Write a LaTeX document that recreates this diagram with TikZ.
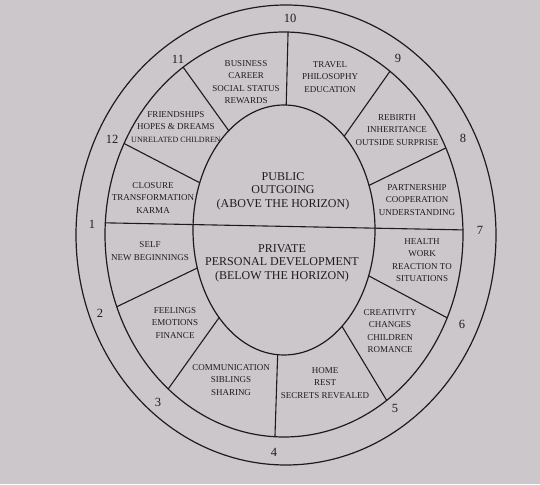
\documentclass[tikz,border=0pt]{standalone}
\usepackage{fontspec}
\setmainfont{Liberation Serif}
\usetikzlibrary{positioning}
\definecolor{paper}{RGB}{204,199,202}
\definecolor{ink}{RGB}{30,27,30}

\begin{document}
\begin{tikzpicture}[
  x=1pt, y=1pt,
  wheel/.style={draw=ink, line width=1.2pt},
  cusp/.style={draw=ink, line width=1.1pt},
  housenum/.style={text=ink, inner sep=0pt, font=\fontsize{12.5}{12.5}\selectfont},
  housetext/.style={text=ink, inner sep=0pt, align=center, font=\fontsize{9}{12.4}\selectfont},
  midtext/.style={text=ink, inner sep=0pt, align=center, font=\fontsize{12}{13.5}\selectfont}
]
  \fill[paper] (0,0) rectangle (540,484);
  \useasboundingbox (0,0) rectangle (540,484);

  % the three rings
  \coordinate (outerc) at (286,249);
  \coordinate (ringc) at (284,249.5);
  \coordinate (midc) at (284,254);
  \draw[wheel] (outerc) ellipse [x radius=210pt, y radius=230pt];
  \draw[wheel] (ringc) ellipse [x radius=179pt, y radius=202.5pt];
  \draw[wheel] (midc) ellipse [x radius=91pt, y radius=125pt];

  % horizon
  \path (ringc) ++(176.7:179pt and 202.5pt) coordinate (out1);
  \path (ringc) ++(1.3:179pt and 202.5pt) coordinate (out7);
  \draw[cusp] (out1) -- (out7);

  % house cusps
  \foreach \n/\a/\b in {2/197.7/200.9, 3/224.5/229.7, 4/266/267.1, 5/309.6/305,
                        6/338.5/335.7, 8/20.9/25.3, 9/48.6/53.7, 10/88.6/88.7,
                        11/127.4/124.3, 12/157.8/153.3}{
    \path (midc) ++(\a:91pt and 125pt) coordinate (in\n);
    \path (ringc) ++(\b:179pt and 202.5pt) coordinate (out\n);
    \draw[cusp] (in\n) -- (out\n);
  }

  % house numbers
  \node[housenum] (num1) at (92,260) {1};
  \node[housenum] (num2) at (100,171) {2};
  \node[housenum] (num3) at (158,82) {3};
  \node[housenum] (num4) at (274,32) {4};
  \node[housenum] (num5) at (395,76) {5};
  \node[housenum] (num6) at (462,160) {6};
  \node[housenum] (num7) at (480,254) {7};
  \node[housenum] (num8) at (463,346) {8};
  \node[housenum] (num9) at (398,426) {9};
  \node[housenum] (num10) at (290,466) {10};
  \node[housenum] (num11) at (178,425) {11};
  \node[housenum] (num12) at (112,345) {12};

  % house meanings
  \node[housetext] (house1) at (150,233) {SELF\\NEW BEGINNINGS};
  \node[housetext] (house2) at (175,161) {FEELINGS\\EMOTIONS\\FINANCE};
  \node[housetext] (house3) at (231,104) {COMMUNICATION\\SIBLINGS\\SHARING};
  \node[housetext] (house4) at (325,101) {HOME\\REST\\SECRETS REVEALED};
  \node[housetext] (house5) at (390,153) {CREATIVITY\\CHANGES\\CHILDREN\\ROMANCE};
  \node[housetext] (house6) at (422,224) {HEALTH\\WORK\\REACTION TO\\SITUATIONS};
  \node[housetext] (house7) at (417,284) {PARTNERSHIP\\COOPERATION\\UNDERSTANDING};
  \node[housetext] (house8) at (397,354) {REBIRTH\\INHERITANCE\\OUTSIDE SURPRISE};
  \node[housetext] (house9) at (330,407) {TRAVEL\\PHILOSOPHY\\EDUCATION};
  \node[housetext] (house10) at (246,402) {BUSINESS\\CAREER\\SOCIAL STATUS\\REWARDS};
  \node[housetext] (house11) at (176,357) {FRIENDSHIPS\\HOPES \& DREAMS\\{\fontsize{8}{9}\selectfont UNRELATED CHILDREN}};
  \node[housetext] (house12) at (153,286) {CLOSURE\\TRANSFORMATION\\KARMA};

  % hemispheres
  \node[midtext] (upper) at (283,293) {PUBLIC\\OUTGOING\\(ABOVE THE HORIZON)};
  \node[midtext] (lower) at (282,221) {PRIVATE\\PERSONAL DEVELOPMENT\\(BELOW THE HORIZON)};
\end{tikzpicture}
\end{document}
